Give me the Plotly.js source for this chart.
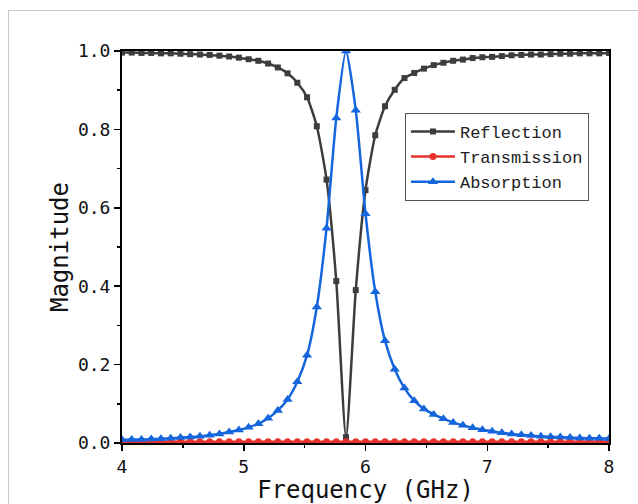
<!DOCTYPE html>
<html>
<head>
<meta charset="utf-8">
<script src="https://cdn.plot.ly/plotly-3.0.1.min.js"></script>
<style>
  html, body { margin: 0; padding: 0; background: #fff; }
  #wrap { position: relative; width: 638px; height: 504px; overflow: hidden; }
  #chart { position: absolute; left: 0; top: 0; width: 638px; height: 504px; }
  #frame { position: absolute; left: 8px; top: 10px; width: 700px; height: 600px;
           border: 1px solid #c8c8c8; pointer-events: none; }
</style>
</head>
<body>
<div id="wrap">
  <div id="frame"></div>
  <div id="chart"></div>
</div>
<script>
// Frequency points (GHz)
const frequency = [
  4.00, 4.08, 4.16, 4.24, 4.32, 4.40, 4.48, 4.56, 4.64, 4.72,
  4.80, 4.88, 4.96, 5.04, 5.12, 5.20, 5.28, 5.36, 5.44, 5.52,
  5.60, 5.68, 5.76, 5.84, 5.92, 6.00, 6.08, 6.16, 6.24, 6.32,
  6.40, 6.48, 6.56, 6.64, 6.72, 6.80, 6.88, 6.96, 7.04, 7.12,
  7.20, 7.28, 7.36, 7.44, 7.52, 7.60, 7.68, 7.76, 7.84, 7.92, 8.00
];

const reflection = [
  0.996, 0.996, 0.995, 0.995, 0.994, 0.994, 0.993, 0.992, 0.991, 0.990,
  0.988, 0.986, 0.983, 0.979, 0.975, 0.968, 0.958, 0.943, 0.919, 0.882,
  0.808, 0.672, 0.413, 0.015, 0.390, 0.645, 0.785, 0.859, 0.901, 0.931,
  0.944, 0.955, 0.964, 0.970, 0.975, 0.978, 0.982, 0.984, 0.985, 0.987,
  0.989, 0.990, 0.991, 0.991, 0.992, 0.993, 0.993, 0.994, 0.994, 0.994, 0.995
];

const transmission = [
  0.003, 0.003, 0.003, 0.003, 0.003, 0.003, 0.003, 0.003, 0.003, 0.003,
  0.003, 0.003, 0.003, 0.003, 0.003, 0.003, 0.003, 0.003, 0.003, 0.003,
  0.003, 0.003, 0.003, 0.003, 0.003, 0.003, 0.003, 0.003, 0.003, 0.003,
  0.003, 0.003, 0.003, 0.003, 0.003, 0.003, 0.003, 0.003, 0.003, 0.003,
  0.003, 0.003, 0.003, 0.003, 0.003, 0.003, 0.003, 0.003, 0.003, 0.003, 0.003
];

const absorption = [
  0.008, 0.009, 0.009, 0.010, 0.011, 0.012, 0.014, 0.015, 0.017, 0.020,
  0.023, 0.028, 0.033, 0.040, 0.049, 0.063, 0.083, 0.111, 0.156, 0.224,
  0.347, 0.548, 0.829, 1.000, 0.849, 0.585, 0.386, 0.261, 0.188, 0.140,
  0.108, 0.087, 0.073, 0.062, 0.052, 0.045, 0.039, 0.034, 0.030, 0.026,
  0.023, 0.021, 0.019, 0.017, 0.016, 0.015, 0.014, 0.013, 0.012, 0.012, 0.011
];

const seriesNames = ['Reflection', 'Transmission', 'Absorption'];
const xTickVals = [4, 5, 6, 7, 8];
const yTickVals = [0.0, 0.2, 0.4, 0.6, 0.8, 1.0];

const traces = [
  {
    x: frequency, y: reflection, name: seriesNames[0], type: 'scatter', mode: 'lines+markers',
    line: { color: '#3d3d3d', width: 2.5, shape: 'spline', smoothing: 0.6 },
    marker: { symbol: 'square', size: 6, color: '#3d3d3d' }
  },
  {
    x: frequency, y: transmission, name: seriesNames[1], type: 'scatter', mode: 'lines+markers',
    line: { color: '#e8312c', width: 2.5 },
    marker: { symbol: 'circle', size: 7, color: '#e8312c' }
  },
  {
    x: frequency, y: absorption, name: seriesNames[2], type: 'scatter', mode: 'lines+markers',
    line: { color: '#1565dc', width: 2.5, shape: 'spline', smoothing: 0.6 },
    marker: { symbol: 'triangle-up', size: 9, color: '#1565dc' }
  }
];

const tickFont = { family: 'DejaVu Sans Mono, monospace', size: 18, color: '#111' };
const titleFont = { family: 'DejaVu Sans Mono, monospace', size: 24, color: '#111' };

const layout = {
  width: 638, height: 504,
  margin: { l: 122, r: 29, t: 51, b: 61, pad: 0 },
  paper_bgcolor: 'rgba(0,0,0,0)',
  plot_bgcolor: '#fff',
  showlegend: true,
  xaxis: {
    range: [4, 8], tickvals: xTickVals, ticktext: xTickVals.map(String),
    showgrid: false, zeroline: false,
    showline: true, linecolor: '#000', linewidth: 2, mirror: true,
    ticks: 'outside', ticklen: 6, tickwidth: 1.5, tickcolor: '#000',
    minor: { ticks: 'outside', dtick: 0.5, ticklen: 3, tickwidth: 1.5, tickcolor: '#000', showgrid: false },
    tickfont: tickFont,
    title: { text: 'Frequency (GHz)', font: titleFont, standoff: 6 }
  },
  yaxis: {
    range: [0, 1], tickvals: yTickVals, ticktext: yTickVals.map(v => v.toFixed(1)),
    showgrid: false, zeroline: false,
    showline: true, linecolor: '#000', linewidth: 2, mirror: true,
    ticks: 'outside', ticklen: 6, tickwidth: 1.5, tickcolor: '#000',
    minor: { ticks: 'outside', dtick: 0.1, ticklen: 3, tickwidth: 1.5, tickcolor: '#000', showgrid: false },
    tickfont: tickFont,
    title: { text: 'Magnitude', font: titleFont, standoff: 2 }
  },
  legend: {
    x: 0.581, y: 0.842, xanchor: 'left', yanchor: 'top',
    bgcolor: '#fff', bordercolor: '#555', borderwidth: 1,
    font: { family: 'Liberation Mono, monospace', size: 17, color: '#222' },
    itemwidth: 44, tracegroupgap: 0
  }
};

Plotly.newPlot('chart', traces, layout, { staticPlot: true, displayModeBar: false });
</script>
</body>
</html>
